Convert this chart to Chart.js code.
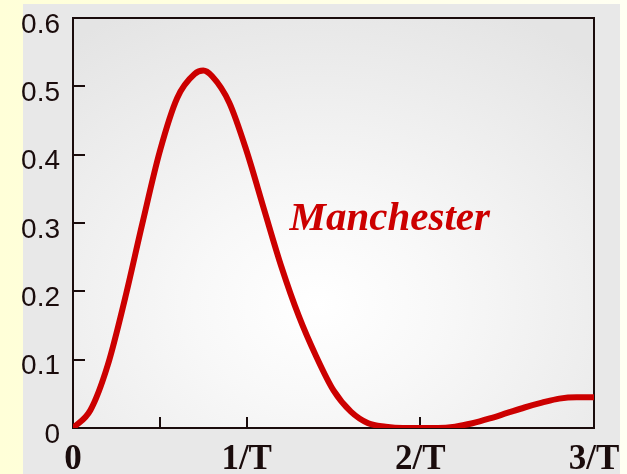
<!DOCTYPE html>
<html>
<head>
<meta charset="utf-8">
<script src="https://cdn.jsdelivr.net/npm/chart.js@4/dist/chart.umd.min.js"></script>
<style>
  html, body { margin: 0; padding: 0; background: #ffffe6; }
  canvas { display: block; }
</style>
</head>
<body>
<canvas id="psd" width="627" height="474"></canvas>
<script>
// values (frequency in units of 1/T)
const freq = [0, 0.1, 0.2, 0.3, 0.4, 0.5, 0.6, 0.7, 0.75, 0.8, 0.9,
              1.0, 1.1, 1.2, 1.3, 1.4, 1.5, 1.6, 1.7, 1.8, 1.9,
              2.0, 2.1, 2.2, 2.3, 2.4, 2.5, 2.6, 2.7, 2.8, 2.9, 3.0]
const psd = [0, 0.026, 0.092, 0.19, 0.3, 0.405, 0.483, 0.518, 0.523, 0.515, 0.476,
             0.405, 0.32, 0.236, 0.164, 0.105, 0.055, 0.024, 0.007, 0.002, 0,
             0, 0, 0.002, 0.007, 0.014, 0.022, 0.03, 0.037, 0.043, 0.045, 0.045]

const xTickLabels = ['0', '1/T', '2/T', '3/T']
const yTickLabels = ['0', '0.1', '0.2', '0.3', '0.4', '0.5', '0.6']
const xTickMarks = [0.5, 1, 2]
const curveLabel = 'Manchester'

const RED = '#cc0000'
const INK = '#1a0c0c'

const backdrop = {
    id: 'backdrop',
    beforeDraw(chart) {
        const ctx = chart.ctx
        const a = chart.chartArea
        ctx.save()
        // yellow slide background
        let g = ctx.createLinearGradient(0, 0, chart.width, 0)
        g.addColorStop(0, '#ffffd8')
        g.addColorStop(1, '#fffff2')
        ctx.fillStyle = g
        ctx.fillRect(0, 0, chart.width, chart.height)
        // grey panel
        ctx.fillStyle = '#e8e8e8'
        ctx.fillRect(23, 4, 597, chart.height - 4)
        // light centre of the plot area
        const cx = a.left + (a.right - a.left) * 0.47
        const cy = a.top + (a.bottom - a.top) * 0.7
        ctx.beginPath()
        ctx.rect(a.left, a.top, a.right - a.left, a.bottom - a.top)
        ctx.clip()
        ctx.translate(cx, cy)
        ctx.scale(1.25, 1)
        g = ctx.createRadialGradient(0, 0, 0, 0, 0, 330)
        g.addColorStop(0, '#ffffff')
        g.addColorStop(0.3, '#f8f8f8')
        g.addColorStop(1, '#e4e4e4')
        ctx.fillStyle = g
        ctx.fillRect(-400, -400, 800, 800)
        ctx.restore()
    },
    beforeDatasetsDraw(chart) {
        const ctx = chart.ctx
        const a = chart.chartArea
        const x = chart.scales.x
        const y = chart.scales.y
        ctx.save()
        ctx.strokeStyle = INK
        ctx.lineWidth = 2
        ctx.strokeRect(a.left, a.top, a.right - a.left, a.bottom - a.top)
        ctx.beginPath()
        y.ticks.forEach(t => {
            if (t.value <= 0 || t.value >= 0.6) return
            const py = Math.round(y.getPixelForValue(t.value))
            ctx.moveTo(a.left, py)
            ctx.lineTo(a.left + 12, py)
        })
        xTickMarks.forEach(v => {
            const px = Math.round(x.getPixelForValue(v))
            ctx.moveTo(px, a.bottom)
            ctx.lineTo(px, a.bottom - 11)
        })
        ctx.stroke()
        ctx.restore()
    },
    afterDatasetsDraw(chart) {
        const ctx = chart.ctx
        ctx.save()
        ctx.fillStyle = RED
        ctx.font = 'bold italic 41px "Liberation Serif", "Times New Roman", serif'
        ctx.textBaseline = 'alphabetic'
        ctx.fillText(curveLabel, chart.scales.x.getPixelForValue(1.247), chart.scales.y.getPixelForValue(0.29))
        ctx.restore()
    }
}

new Chart(document.getElementById('psd'), {
    type: 'line',
    data: {
        datasets: [{
            data: freq.map((f, i) => ({ x: f, y: psd[i] })),
            borderColor: RED,
            borderWidth: 6,
            borderCapStyle: 'round',
            borderJoinStyle: 'round',
            pointRadius: 0,
            cubicInterpolationMode: 'monotone',
            fill: false
        }]
    },
    options: {
        responsive: false,
        animation: false,
        layout: { padding: { top: 18, right: 33, left: 0, bottom: 0 } },
        plugins: {
            legend: { display: false },
            tooltip: { enabled: false }
        },
        scales: {
            x: {
                type: 'linear',
                min: 0,
                max: 3,
                grid: { display: false },
                border: { display: false },
                afterFit(scale) {
                    scale.height = 46
                    scale.paddingLeft = 0
                    scale.paddingRight = 0
                },
                ticks: {
                    stepSize: 1,
                    padding: 3,
                    maxRotation: 0,
                    color: INK,
                    font: { family: '"Liberation Serif", "Times New Roman", serif', size: 35, weight: 'bold' },
                    callback: (v) => xTickLabels[v]
                }
            },
            y: {
                min: 0,
                max: 0.6,
                grid: { display: false },
                border: { display: false },
                afterFit(scale) {
                    scale.width = 73
                    scale.paddingTop = 0
                    scale.paddingBottom = 0
                },
                ticks: {
                    stepSize: 0.1,
                    padding: 5,
                    labelOffset: 7,
                    color: INK,
                    font: { family: '"Liberation Sans", Arial, sans-serif', size: 28 },
                    callback: (v) => yTickLabels[Math.round(v * 10)]
                }
            }
        }
    },
    plugins: [backdrop]
})
</script>
</body>
</html>
